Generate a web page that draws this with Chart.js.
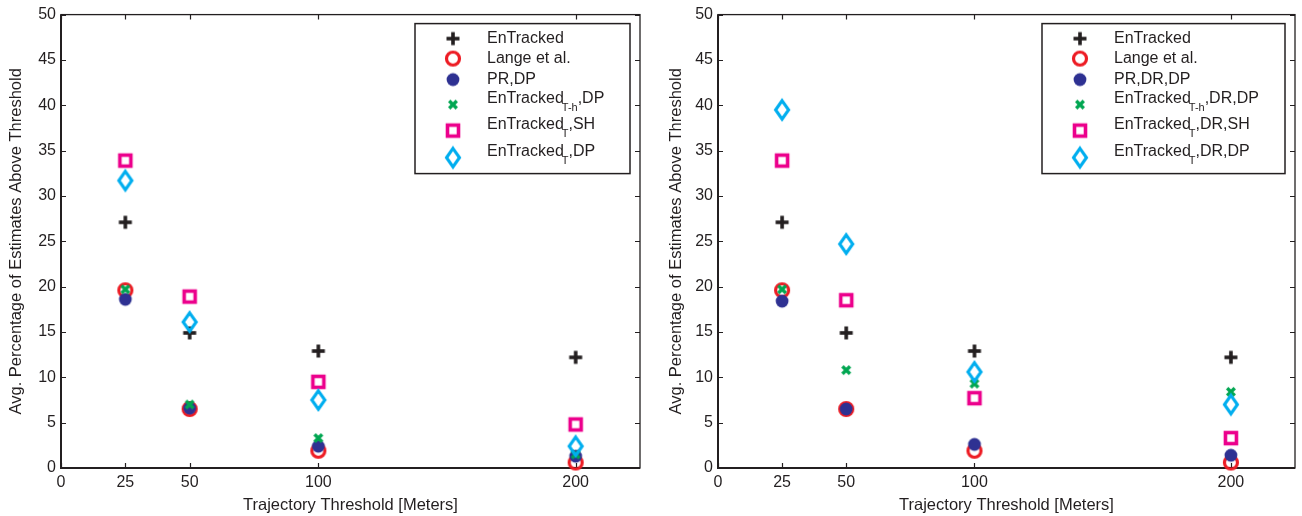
<!DOCTYPE html>
<html>
<head>
<meta charset="utf-8">
<script src="https://cdn.jsdelivr.net/npm/chart.js@4.4.0/dist/chart.umd.min.js"></script>
<style>
  html, body { margin: 0; padding: 0; background: #fff; }
  #wrap { display: flex; width: 1302px; height: 516px; }
  canvas { display: block; }
</style>
</head>
<body>
<div id="wrap">
  <canvas id="leftChart" width="651" height="516"></canvas>
  <canvas id="rightChart" width="651" height="516"></canvas>
</div>
<script>
// shared axes
const thresholds = [25, 50, 100, 200];
const xTicks = [0, 25, 50, 100, 200];
const xMax = 225;
const yMax = 50;
const yStep = 5;

// left panel
const leftLabels = ['EnTracked', 'Lange et al.', 'PR,DP', 'EnTracked_{T-h},DP', 'EnTracked_{T},SH', 'EnTracked_{T},DP'];
const leftEnTracked = [27.1, 14.9, 12.9, 12.2];
const leftLange = [19.6, 6.5, 1.9, 0.6];
const leftPrDp = [18.6, 6.6, 2.4, 1.3];
const leftThDp = [19.7, 7.0, 3.3, 1.5];
const leftTSh = [33.9, 18.9, 9.5, 4.8];
const leftTDp = [31.7, 16.1, 7.5, 2.4];

// right panel
const rightLabels = ['EnTracked', 'Lange et al.', 'PR,DR,DP', 'EnTracked_{T-h},DR,DP', 'EnTracked_{T},DR,SH', 'EnTracked_{T},DR,DP'];
const rightEnTracked = [27.1, 14.9, 12.9, 12.2];
const rightLange = [19.6, 6.5, 1.9, 0.6];
const rightPrDrDp = [18.4, 6.5, 2.6, 1.4];
const rightThDrDp = [19.7, 10.8, 9.3, 8.4];
const rightTDrSh = [33.9, 18.5, 7.7, 3.3];
const rightTDrDp = [39.5, 24.7, 10.6, 7.0];

const INK = '#231f20';
const FONT = "'Liberation Sans', Arial, Helvetica, sans-serif";

// MATLAB-like markers, drawn once into small canvases and used as pointStyle
function makeMarker(kind) {
    const c = document.createElement('canvas');
    c.width = 24; c.height = 26;
    const g = c.getContext('2d');
    g.translate(12, 13);
    g.lineJoin = 'miter';
    if (kind === 'plus') {
        g.fillStyle = INK;
        g.fillRect(-6.5, -1.8, 13, 3.6);
        g.fillRect(-1.8, -6.5, 3.6, 13);
    } else if (kind === 'circle') {
        g.strokeStyle = '#ed1c24'; g.lineWidth = 3.2;
        g.beginPath(); g.arc(0, 0, 6.5, 0, Math.PI * 2); g.stroke();
    } else if (kind === 'dot') {
        g.fillStyle = '#2e3192';
        g.beginPath(); g.arc(0, 0, 6.4, 0, Math.PI * 2); g.fill();
    } else if (kind === 'x') {
        g.strokeStyle = '#00a651'; g.lineWidth = 3.4;
        g.beginPath();
        g.moveTo(-3.8, -3.8); g.lineTo(3.8, 3.8);
        g.moveTo(3.8, -3.8); g.lineTo(-3.8, 3.8);
        g.stroke();
    } else if (kind === 'square') {
        g.strokeStyle = '#ec008c'; g.lineWidth = 3.6;
        g.strokeRect(-5.5, -5.5, 11, 11);
    } else if (kind === 'diamond') {
        g.strokeStyle = '#00aeef'; g.lineWidth = 3.1;
        g.beginPath();
        g.moveTo(0, -9.2); g.lineTo(6.5, 0); g.lineTo(0, 9.2); g.lineTo(-6.5, 0);
        g.closePath(); g.stroke();
    }
    return c;
}

const markerKinds = ['plus', 'circle', 'dot', 'x', 'square', 'diamond'];
const markers = markerKinds.map(makeMarker);

// box with inward ticks on all four sides
const boxPlugin = {
    id: 'matlabBox',
    beforeDatasetsDraw(chart) {
        const { ctx, chartArea: a, scales } = chart;
        const tl = 5;
        ctx.save();
        ctx.strokeStyle = INK;
        ctx.lineWidth = 1.2;
        ctx.beginPath();
        xTicks.forEach(v => {
            const px = Math.round(scales.x.getPixelForValue(v)) + 0.5;
            ctx.moveTo(px, a.bottom); ctx.lineTo(px, a.bottom - tl);
            ctx.moveTo(px, a.top); ctx.lineTo(px, a.top + tl);
        });
        for (let v = 0; v <= yMax; v += yStep) {
            const py = Math.round(scales.y.getPixelForValue(v)) + 0.5;
            ctx.moveTo(a.left, py); ctx.lineTo(a.left + tl, py);
            ctx.moveTo(a.right, py); ctx.lineTo(a.right - tl, py);
        }
        ctx.stroke();
        ctx.lineWidth = 1.3;
        ctx.strokeRect(a.left, a.top, a.right - a.left, a.bottom - a.top);
        ctx.lineWidth = 2;
        ctx.beginPath();
        ctx.moveTo(a.left, a.top); ctx.lineTo(a.left, a.bottom); ctx.lineTo(a.right, a.bottom);
        ctx.stroke();
        ctx.restore();
    }
};

// legend with subscripts: "Base_{sub}rest"
const legendPlugin = {
    id: 'subLegend',
    afterDraw(chart, args, opts) {
        const { ctx, chartArea: a } = chart;
        const w = opts.width, h = 150;
        const bx = a.right - 10 - w, by = a.top + 9;
        ctx.save();
        ctx.fillStyle = '#fff';
        ctx.fillRect(bx, by, w, h);
        ctx.strokeStyle = INK;
        ctx.lineWidth = 1.5;
        ctx.strokeRect(bx, by, w, h);
        const markerY = [15, 35, 56, 81, 107, 134];
        const textY = [15, 35, 56, 75, 101, 128];
        ctx.fillStyle = INK;
        ctx.textBaseline = 'middle';
        ctx.textAlign = 'left';
        opts.labels.forEach((lab, i) => {
            const m = markers[i];
            ctx.drawImage(m, bx + 38 - m.width / 2, by + markerY[i] - m.height / 2);
            const tx = bx + 72, ty = by + textY[i];
            const parts = lab.match(/^(.*?)_\{(.*?)\}(.*)$/);
            ctx.font = '16px ' + FONT;
            if (!parts) {
                ctx.fillText(lab, tx, ty);
                return;
            }
            ctx.fillText(parts[1], tx, ty);
            let x = tx + ctx.measureText(parts[1]).width - 2;
            ctx.font = '11px ' + FONT;
            ctx.fillText(parts[2], x, ty + 9);
            x += ctx.measureText(parts[2]).width;
            ctx.font = '16px ' + FONT;
            ctx.fillText(parts[3], x, ty);
        });
        ctx.restore();
    }
};

function toPoints(values) {
    return thresholds.map((t, i) => ({ x: t, y: values[i] }));
}

function buildChart(id, labels, series, layout) {
    const n = series.length;
    new Chart(document.getElementById(id), {
        type: 'scatter',
        data: {
            datasets: series.map((vals, i) => ({
                label: labels[i],
                data: toPoints(vals),
                pointStyle: markers[i],
                pointRadius: 6,
                pointHoverRadius: 6,
                clip: false,
                order: n - i
            }))
        },
        options: {
            responsive: false,
            animation: false,
            events: [],
            layout: { padding: { left: layout.padLeft, top: 13, right: layout.padRight, bottom: 0 } },
            plugins: {
                legend: { display: false },
                tooltip: { enabled: false },
                subLegend: { labels: labels, width: layout.legendWidth }
            },
            scales: {
                x: {
                    type: 'linear', min: 0, max: xMax,
                    afterBuildTicks: s => { s.ticks = xTicks.map(v => ({ value: v })); },
                    afterFit: s => { s.height = 48; },
                    grid: { display: false, drawTicks: false },
                    border: { display: false },
                    ticks: { color: INK, font: { family: FONT, size: 16 }, padding: 5, maxRotation: 0, autoSkip: false },
                    title: {
                        display: true, text: 'Trajectory Threshold [Meters]', color: INK,
                        font: { family: FONT, size: 16.5 }, padding: { top: 0, bottom: 1 }
                    }
                },
                y: {
                    type: 'linear', min: 0, max: yMax,
                    afterFit: s => { s.width = layout.yWidth; },
                    grid: { display: false, drawTicks: false },
                    border: { display: false },
                    ticks: { stepSize: yStep, color: INK, font: { family: FONT, size: 16 }, padding: 5 },
                    title: {
                        display: true, text: 'Avg. Percentage of Estimates Above Threshold', color: INK,
                        font: { family: FONT, size: 16.5 }, padding: { top: 0, bottom: 0 }
                    }
                }
            }
        },
        plugins: [boxPlugin, legendPlugin]
    });
}

buildChart('leftChart', leftLabels,
    [leftEnTracked, leftLange, leftPrDp, leftThDp, leftTSh, leftTDp],
    { padLeft: 7, yWidth: 54, padRight: 11, legendWidth: 215 });

buildChart('rightChart', rightLabels,
    [rightEnTracked, rightLange, rightPrDrDp, rightThDrDp, rightTDrSh, rightTDrDp],
    { padLeft: 16, yWidth: 51, padRight: 4, legendWidth: 243 });
</script>
</body>
</html>
